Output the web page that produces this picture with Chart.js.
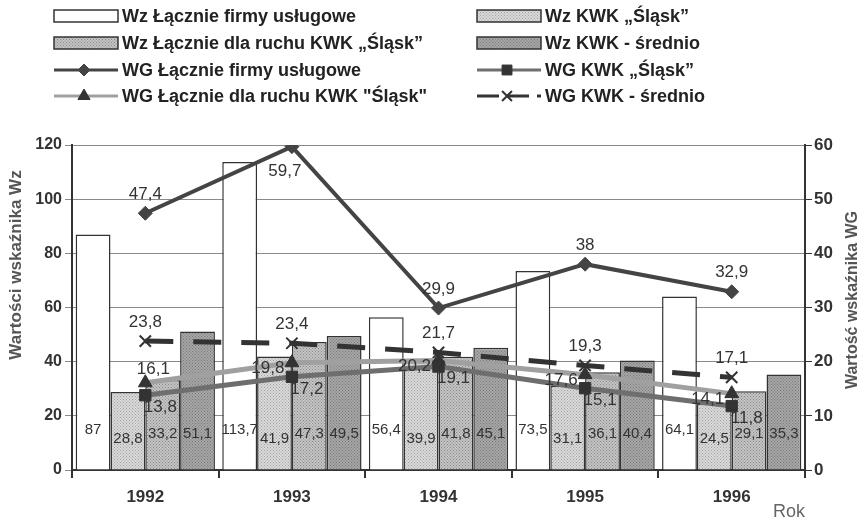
<!DOCTYPE html>
<html>
<head>
<meta charset="utf-8">
<script src="https://cdn.jsdelivr.net/npm/chart.js@4"></script>
<style>
  html, body { margin: 0; padding: 0; background: #fff; }
  #wrap { width: 867px; height: 524px; }
</style>
</head>
<body>
<div id="wrap"><canvas id="myChart"></canvas></div>
<script>
// dane
const years = ['1992', '1993', '1994', '1995', '1996'];
const wzFirmy = [87, 113.7, 56.4, 73.5, 64.1];
const wzSlask = [28.8, 41.9, 39.9, 31.1, 24.5];
const wzRuch = [33.2, 47.3, 41.8, 36.1, 29.1];
const wzSrednio = [51.1, 49.5, 45.1, 40.4, 35.3];
const wgFirmy = [47.4, 59.7, 29.9, 38, 32.9];
const wgSlask = [13.8, 17.2, 19.1, 15.1, 11.8];
const wgRuch = [16.1, 19.8, 20.2, 17.6, 14.1];
const wgSrednio = [23.8, 23.4, 21.7, 19.3, 17.1];
const wzMax = 120, wzStep = 20;
const wgMax = 60, wgStep = 10;
const wzTitle = 'Wartości wskaźnika Wz';
const wgTitle = 'Wartość wskaźnika WG';

const FONT = '"Liberation Sans", Arial, sans-serif';

function dots(base, dot, step) {
    const c = document.createElement('canvas');
    c.width = c.height = step;
    const g = c.getContext('2d');
    g.fillStyle = base;
    g.fillRect(0, 0, step, step);
    g.fillStyle = dot;
    g.fillRect(0, 0, 1, 1);
    g.fillRect(step / 2, step / 2, 1, 1);
    return g.createPattern(c, 'repeat');
}

const fmt = v => String(v).replace('.', ',');

// offsets of value labels (dx, dy) by placement name
const place = {
    above: [0, -19],
    below: [-7, 25],
    aboveR: [8, -13],
    left: [-24, 6],
    belowR: [15, 12]
};

const valueLabels = {
    id: 'valueLabels',
    afterDatasetsDraw(chart) {
        const ctx = chart.ctx;
        ctx.save();
        ctx.textAlign = 'center';
        ctx.textBaseline = 'middle';
        ctx.fillStyle = '#333';
        chart.data.datasets.forEach((ds, i) => {
            const meta = chart.getDatasetMeta(i);
            meta.data.forEach((el, j) => {
                const v = ds.data[j];
                if (ds.type === 'bar') {
                    ctx.font = '15px ' + FONT;
                    ctx.fillText(fmt(v), el.x, el.base - ds.labelLift);
                } else {
                    const p = place[ds.labelPos[j]];
                    ctx.font = '17px ' + FONT;
                    ctx.fillText(fmt(v), el.x + p[0], el.y + p[1]);
                }
            });
        });
        ctx.restore();
    }
};

// rotated axis titles (both read bottom-up)
const axisTitles = {
    id: 'axisTitles',
    afterDraw(chart) {
        const ctx = chart.ctx;
        ctx.save();
        ctx.fillStyle = '#555';
        ctx.textAlign = 'center';
        ctx.textBaseline = 'middle';
        [[wzTitle, 16, 265, 17], [wgTitle, 853, 300, 16]].forEach(t => {
            ctx.save();
            ctx.translate(t[1], t[2]);
            ctx.rotate(-Math.PI / 2);
            ctx.font = 'bold ' + t[3] + 'px ' + FONT;
            ctx.fillText(t[0], 0, 0);
            ctx.restore();
        });
        ctx.restore();
    }
};

const topLegend = {
    id: 'topLegend',
    afterDraw(chart) {
        const ctx = chart.ctx;
        const cols = [[0, 2, 4, 6], [1, 3, 5, 7]];
        const colX = [54, 477];
        const rowY = [16, 43, 70, 96];
        ctx.save();
        ctx.font = 'bold 18px ' + FONT;
        ctx.textBaseline = 'middle';
        ctx.textAlign = 'left';
        cols.forEach((col, c) => {
            col.forEach((di, r) => {
                const ds = chart.data.datasets[di];
                const x0 = colX[c], x1 = x0 + 64, y = rowY[r];
                if (ds.type === 'bar') {
                    ctx.fillStyle = ds.backgroundColor;
                    ctx.fillRect(x0, y - 6, 64, 12);
                    ctx.strokeStyle = '#333';
                    ctx.lineWidth = 1.5;
                    ctx.strokeRect(x0, y - 6, 64, 12);
                } else {
                    ctx.strokeStyle = ds.borderColor;
                    ctx.lineWidth = 3;
                    ctx.setLineDash(ds.borderDash ? [22, 8] : []);
                    ctx.beginPath();
                    ctx.moveTo(x0, y);
                    ctx.lineTo(x1, y);
                    ctx.stroke();
                    ctx.setLineDash([]);
                    ctx.fillStyle = ds.pointBackgroundColor;
                    ctx.strokeStyle = ds.pointBorderColor;
                    ctx.lineWidth = ds.pointBorderWidth;
                    Chart.helpers.drawPoint(ctx, {
                        pointStyle: ds.pointStyle,
                        radius: ds.pointRadius - 1,
                        rotation: 0,
                        borderWidth: ds.pointBorderWidth
                    }, x0 + 30, y);
                }
                ctx.fillStyle = '#222';
                ctx.fillText(ds.label, x1 + 4, y + 1);
            });
        });
        ctx.restore();
    }
};

const ctx = document.getElementById('myChart').getContext('2d');

const barBase = {
    type: 'bar',
    yAxisID: 'y',
    borderColor: '#333',
    borderWidth: 1.5,
    categoryPercentage: 0.95,
    barPercentage: 1,
    order: 2
};
const lineBase = {
    type: 'line',
    yAxisID: 'y2',
    fill: false,
    tension: 0,
    order: 1
};

const myChart = new Chart(ctx, {
    data: {
        labels: years,
        datasets: [
            Object.assign({}, barBase, { label: 'Wz Łącznie firmy usługowe', data: wzFirmy, backgroundColor: '#ffffff', labelLift: 40 }),
            Object.assign({}, barBase, { label: 'Wz KWK „Śląsk”', data: wzSlask, backgroundColor: dots('#dadada', '#a0a0a0', 3), labelLift: 31 }),
            Object.assign({}, barBase, { label: 'Wz Łącznie dla ruchu KWK „Śląsk”', data: wzRuch, backgroundColor: dots('#c4c4c4', '#888888', 3), labelLift: 36 }),
            Object.assign({}, barBase, { label: 'Wz KWK - średnio', data: wzSrednio, backgroundColor: dots('#a6a6a6', '#7a7a7a', 3), labelLift: 36 }),
            Object.assign({}, lineBase, {
                label: 'WG Łącznie firmy usługowe', data: wgFirmy,
                borderColor: '#444', borderWidth: 4,
                pointStyle: 'rectRot', pointRadius: 7,
                pointBackgroundColor: '#444', pointBorderColor: '#444', pointBorderWidth: 1,
                labelPos: ['above', 'below', 'above', 'above', 'above']
            }),
            Object.assign({}, lineBase, {
                label: 'WG KWK „Śląsk”', data: wgSlask,
                borderColor: '#6e6e6e', borderWidth: 5,
                pointStyle: 'rect', pointRadius: 8,
                pointBackgroundColor: '#333', pointBorderColor: '#333', pointBorderWidth: 1,
                labelPos: ['belowR', 'belowR', 'belowR', 'belowR', 'belowR']
            }),
            Object.assign({}, lineBase, {
                label: 'WG Łącznie dla ruchu KWK "Śląsk"', data: wgRuch,
                borderColor: '#a0a0a0', borderWidth: 5,
                pointStyle: 'triangle', pointRadius: 8,
                pointBackgroundColor: '#333', pointBorderColor: '#333', pointBorderWidth: 1,
                labelPos: ['aboveR', 'left', 'left', 'left', 'left']
            }),
            Object.assign({}, lineBase, {
                label: 'WG KWK - średnio', data: wgSrednio,
                borderColor: '#333', borderWidth: 5, borderDash: [28, 20],
                pointStyle: 'crossRot', pointRadius: 8,
                pointBackgroundColor: '#333', pointBorderColor: '#333', pointBorderWidth: 2,
                labelPos: ['above', 'above', 'above', 'above', 'above']
            })
        ]
    },
    options: {
        responsive: true,
        maintainAspectRatio: false,
        animation: false,
        layout: { padding: { top: 145, left: 0, right: 0, bottom: 0 } },
        plugins: {
            legend: { display: false },
            tooltip: { enabled: false }
        },
        scales: {
            x: {
                offset: true,
                grid: { offset: true, drawOnChartArea: false, color: '#333', tickLength: 8, lineWidth: 2 },
                border: { color: '#333', width: 2 },
                ticks: { color: '#333', font: { family: FONT, size: 17, weight: 'bold' }, padding: 9 },
                title: { display: true, text: 'Rok', align: 'end', color: '#666', font: { family: FONT, size: 18 }, padding: { top: 0, bottom: 1 } },
                afterFit: s => { s.height = 54; }
            },
            y: {
                position: 'left',
                min: 0, max: wzMax,
                ticks: { stepSize: wzStep, color: '#333', font: { family: FONT, size: 16, weight: 'bold' }, padding: 3 },
                grid: { color: '#8a8a8a', tickLength: 7 },
                border: { color: '#333', width: 2 },
                afterFit: s => { s.width = 72; }
            },
            y2: {
                position: 'right',
                min: 0, max: wgMax,
                ticks: { stepSize: wgStep, color: '#333', font: { family: FONT, size: 17, weight: 'bold' }, padding: 2 },
                grid: { drawOnChartArea: false, color: '#333', tickLength: 7 },
                border: { color: '#333', width: 2 },
                afterFit: s => { s.width = 62; }
            }
        }
    },
    plugins: [valueLabels, axisTitles, topLegend]
});
</script>
</body>
</html>
